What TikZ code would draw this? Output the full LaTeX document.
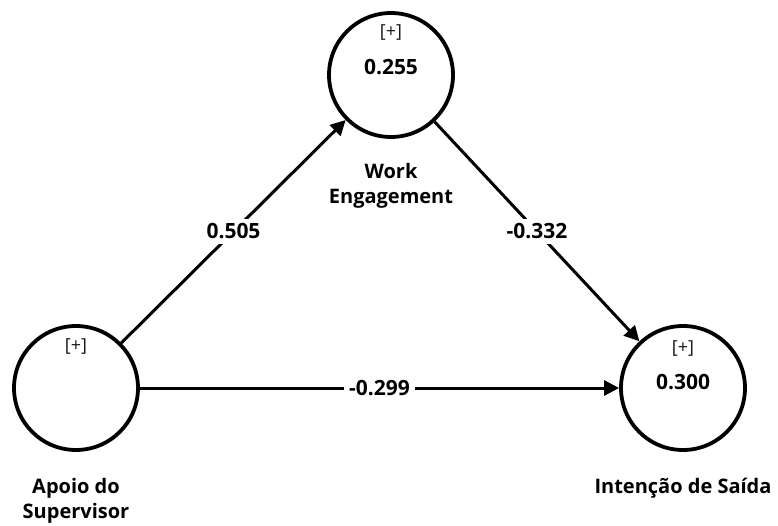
\documentclass[tikz,border=0pt]{standalone}
\usepackage{fontspec}
\setmainfont{Open Sans}
\usetikzlibrary{positioning,arrows.meta}
\tikzset{x=1pt, y=-1pt,
    latent/.style={circle, draw, line width=3.8pt, minimum size=124pt, inner sep=0pt},
    plussign/.style={font=\fontsize{18}{20}\selectfont, text=black!90},
    rsquare/.style={font=\bfseries\fontsize{21}{24}\selectfont},
    lvname/.style={font=\bfseries\fontsize{20}{25}\selectfont, align=center},
    effect/.style={line width=3pt, -{Triangle[length=15pt, width=15pt]}},
    coef/.style={fill=white, inner sep=5pt, font=\bfseries\fontsize{21}{24}\selectfont},
    }
\begin{document}
\begin{tikzpicture}
	\useasboundingbox (0,0) rectangle (778,526);
	% constructs
	\node[latent] (apoio) at (76,388) {};
	\node[latent] (work) at (391,75) {};
	\node[latent] (intencao) at (683,388) {};
	% inside the circles
	\node[plussign, yshift=42pt] (apoioplus) at (apoio.center) {[+]};
	\node[plussign, yshift=42pt] (workplus) at (work.center) {[+]};
	\node[rsquare, yshift=8pt] (workr2) at (work.center) {0.255};
	\node[plussign, yshift=40pt] (intencaoplus) at (intencao.center) {[+]};
	\node[rsquare, yshift=6pt] (intencaor2) at (intencao.center) {0.300};
	% names
	\node[lvname, below=21pt of work] (workname) {Work\\Engagement};
	\node[lvname, below=23pt of apoio] (apoioname) {Apoio do\\Supervisor};
	\node[lvname, below=23pt of intencao] (intencaoname) {Intenção de Saída};
	% paths
	\draw[effect] (apoio) -- node[coef] {0.505} (work);
	\draw[effect] (work) -- node[coef] {-0.332} (intencao);
	\draw[effect] (apoio) -- node[coef] {-0.299} (intencao);
\end{tikzpicture}
\end{document}
